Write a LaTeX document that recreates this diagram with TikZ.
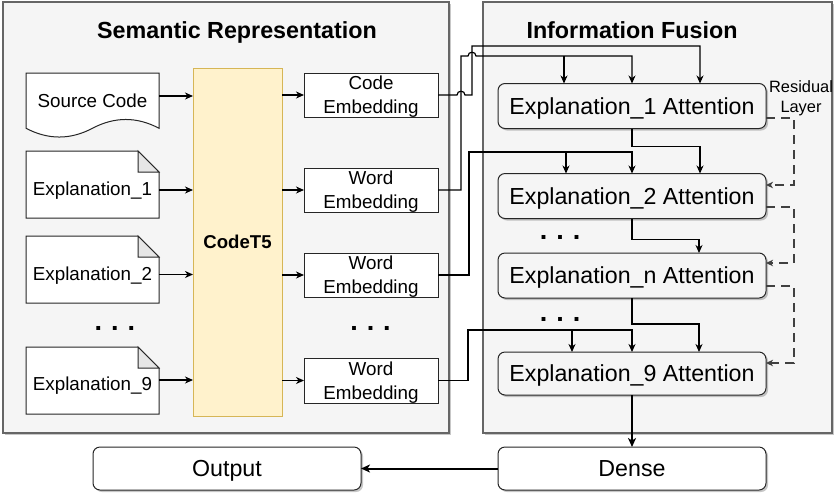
\documentclass[tikz,border=0pt]{standalone}
\usepackage{fontspec}
\setmainfont{Liberation Sans}
\usetikzlibrary{arrows.meta,calc,shadows}
\definecolor{panelbg}{HTML}{F5F5F5}
\definecolor{panelbd}{HTML}{666666}
\definecolor{t5fill}{HTML}{FFF2CC}
\definecolor{t5bd}{HTML}{D6B656}
\definecolor{boxbd}{HTML}{262626}
\definecolor{foldfill}{HTML}{E6E6E6}
\definecolor{resline}{HTML}{404040}
\begin{document}
\begin{tikzpicture}[x=1pt,y=-1pt,
  every node/.style={inner sep=0pt,outer sep=0pt},
  tip/.style={-{Stealth[length=8pt,width=7pt,inset=2.5pt]}},
  arr/.style={draw=black,line width=1.2pt,tip},
  arrthick/.style={draw=black,line width=2pt,-{Stealth[length=9pt,width=8pt,inset=2.5pt]}},
  res/.style={draw=resline,line width=1.2pt,dash pattern=on 9pt off 6pt,-{Stealth[length=7pt,width=6.5pt,inset=2pt]}},
  shad/.style={drop shadow={shadow xshift=2pt,shadow yshift=-2pt,opacity=0.22,fill=black}},
  panel/.style={draw=panelbd,fill=panelbg,line width=1.1pt,shad},
  ttl/.style={font=\fontsize{23.3}{28}\selectfont\bfseries,text height=16.7pt,text depth=0pt},
  shapebox/.style={minimum width=133pt},
  docline/.style={draw=boxbd,fill=white,line width=1pt},
  lbl/.style={font=\fontsize{18.8}{24}\selectfont,text height=13.5pt,text depth=0pt},
  emb/.style={draw=boxbd,fill=white,line width=1pt,minimum width=134pt,minimum height=44pt,
    align=center,font=\fontsize{18.8}{24}\selectfont,text depth=0pt},
  t5/.style={draw=t5bd,fill=t5fill,line width=1pt,minimum width=89pt,minimum height=348pt,
    font=\fontsize{18.6}{22}\selectfont\bfseries,text height=13.3pt,text depth=0pt},
  attn/.style={draw=boxbd,fill=panelbg,rounded corners=7pt,line width=1pt,minimum width=268pt,
    minimum height=45pt,font=\fontsize{23.2}{28}\selectfont,text height=16.6pt,text depth=0pt,shad},
  endbox/.style={attn,fill=white,minimum height=43pt},
  dots/.style={font=\fontsize{27}{30}\selectfont\bfseries,anchor=base},
  reslbl/.style={align=center,font=\fontsize{16.4}{20}\selectfont,text depth=0pt}
]
\useasboundingbox (0,0) rectangle (834,496);

% panels
\node[panel,minimum width=446pt,minimum height=431pt] (lp) at (226,217.5) {};
\node[panel,minimum width=349pt,minimum height=431pt] (rp) at (657.5,217.5) {};
\node[ttl] (t1) at (237,30) {Semantic Representation};
\node[ttl] (t2) at (632,30) {Information Fusion};

% input documents
\node[shapebox,minimum height=65pt] (src) at (92.5,105.5) {};
\begin{scope}[shift={(src.north west)}]
  \draw[docline] (0,0) -- (133,0) -- (133,55.25)
    .. controls (110.83,43.55) and (88.67,43.55) .. (66.5,55.25)
    .. controls (44.33,66.95) and (22.17,66.95) .. (0,55.25) -- cycle;
\end{scope}
\node[lbl] (srct) at (92.5,100.5) {Source Code};

\node[shapebox,minimum height=67pt] (e1) at (92.5,184.5) {};
\node[shapebox,minimum height=67pt] (e2) at (92.5,269.5) {};
\node[shapebox,minimum height=67pt] (e9) at (92.5,380.5) {};
\foreach \n in {e1,e2,e9}{
  \begin{scope}[shift={(\n.north west)}]
    \draw[docline] (0,0) -- (112,0) -- (133,21) -- (133,67) -- (0,67) -- cycle;
    \filldraw[draw=boxbd,fill=foldfill,line width=1pt] (112,0) -- (112,21) -- (133,21) -- cycle;
  \end{scope}
}
\node[lbl] (e1t) at (92.5,188.5) {Explanation\_1};
\node[lbl] (e2t) at (92.5,273.5) {Explanation\_2};
\node[lbl] (e9t) at (92.5,384) {Explanation\_9};
\node[dots] (d1) at (115,330) {.\,\,.\,\,.};

% CodeT5
\node[t5] (codet5) at (237.5,242) {CodeT5};

% embeddings
\node[emb] (ce) at (371,95) {Code\\Embedding};
\node[emb] (we1) at (371,190) {Word\\Embedding};
\node[emb] (we2) at (371,275) {Word\\Embedding};
\node[emb,minimum height=45pt] (we9) at (371,380.5) {Word\\Embedding};
\node[dots] (d2) at (370.5,330) {.\,\,.\,\,.};

% arrows into / out of CodeT5
\coordinate (in0) at ($(src.east)+(0,-9.5)$);
\coordinate (in1) at ($(e1.east)+(0,5.5)$);
\coordinate (in2) at ($(e2.east)+(0,5)$);
\coordinate (in9) at ($(e9.east)+(0,-0.5)$);
\foreach \c in {in0,in1,in2,in9}{ \draw[arr] (\c) -- (\c -| codet5.west); }
\foreach \m in {ce,we1,we2,we9}{ \draw[arr] (codet5.east |- \m.west) -- (\m.west); }

% attention blocks
\node[attn] (a1) at (632,106) {Explanation\_1 Attention};
\node[attn] (a2) at (632,196) {Explanation\_2 Attention};
\node[attn] (an) at (632,275.5) {Explanation\_n Attention};
\node[attn,minimum height=43pt] (a9) at (632,373.5) {Explanation\_9 Attention};
\node[dots] (d3) at (560,239) {.\,\,.\,\,.};
\node[dots] (d4) at (560,321) {.\,\,.\,\,.};

\coordinate (a1k) at ($(a1.north)+(-68,0)$);
\coordinate (a1v) at (a1.north);
\coordinate (a1q) at ($(a1.north)+(68,0)$);
\coordinate (a2k) at ($(a2.north)+(-66,0)$);
\coordinate (a2v) at (a2.north);
\coordinate (a2q) at ($(a2.north)+(68,0)$);
\coordinate (anq) at ($(an.north)+(67,0)$);
\coordinate (a9k) at ($(a9.north)+(-60,0)$);
\coordinate (a9v) at (a9.north);
\coordinate (a9q) at ($(a9.north)+(67,0)$);

% dense and output
\node[endbox] (dense) at (632,468.5) {Dense};
\node[endbox] (output) at (227,468.5) {Output};

% embedding -> attention
\draw[arr] (ce.east) -- (457,95) .. controls (457,90) and (465,90) .. (465,95)
  -- (472,95) -- (472,46) -| (a1q);
\draw[arr] (we1.east) -| (461,56) -- (468,56) .. controls (468,51) and (476,51) .. (476,56) -| (a1v);
\draw[arr] (a1k |- 0,56) -- (a1k);
\draw[arr] (we2.east) -| (469,152) -| (a2v);
\draw[arr] (a2k |- 0,152) -- (a2k);
\draw[arr] (we9.east) -| (468,330) -| (a9v);
\draw[arr] (a9k |- 0,330) -- (a9k);

% chain between attention blocks
\draw[arr] (a1.south) -- ++(0,18) -| (a2q);
\draw[arr] (a2.south) -- ++(0,21) -| (anq);
\draw[arr] (an.south) -- ++(0,26) -| (a9q);
\draw[arrthick] (a9.south) -- (dense.north);
\draw[arrthick] (dense.west) -- (output.east);

% residual layer
\draw[res] ($(a1.east)+(0,12)$) -- ++(28,0) |- ($(a2.east)+(0,-11)$);
\draw[res] ($(a2.east)+(0,11)$) -- ++(28,0) |- ($(an.east)+(0,-12.5)$);
\draw[res] ($(an.east)+(0,10.5)$) -- ++(28,0) |- ($(a9.east)+(0,-10.5)$);
\node[reslbl] (rl) at (801,97) {Residual\\Layer};
\end{tikzpicture}
\end{document}
